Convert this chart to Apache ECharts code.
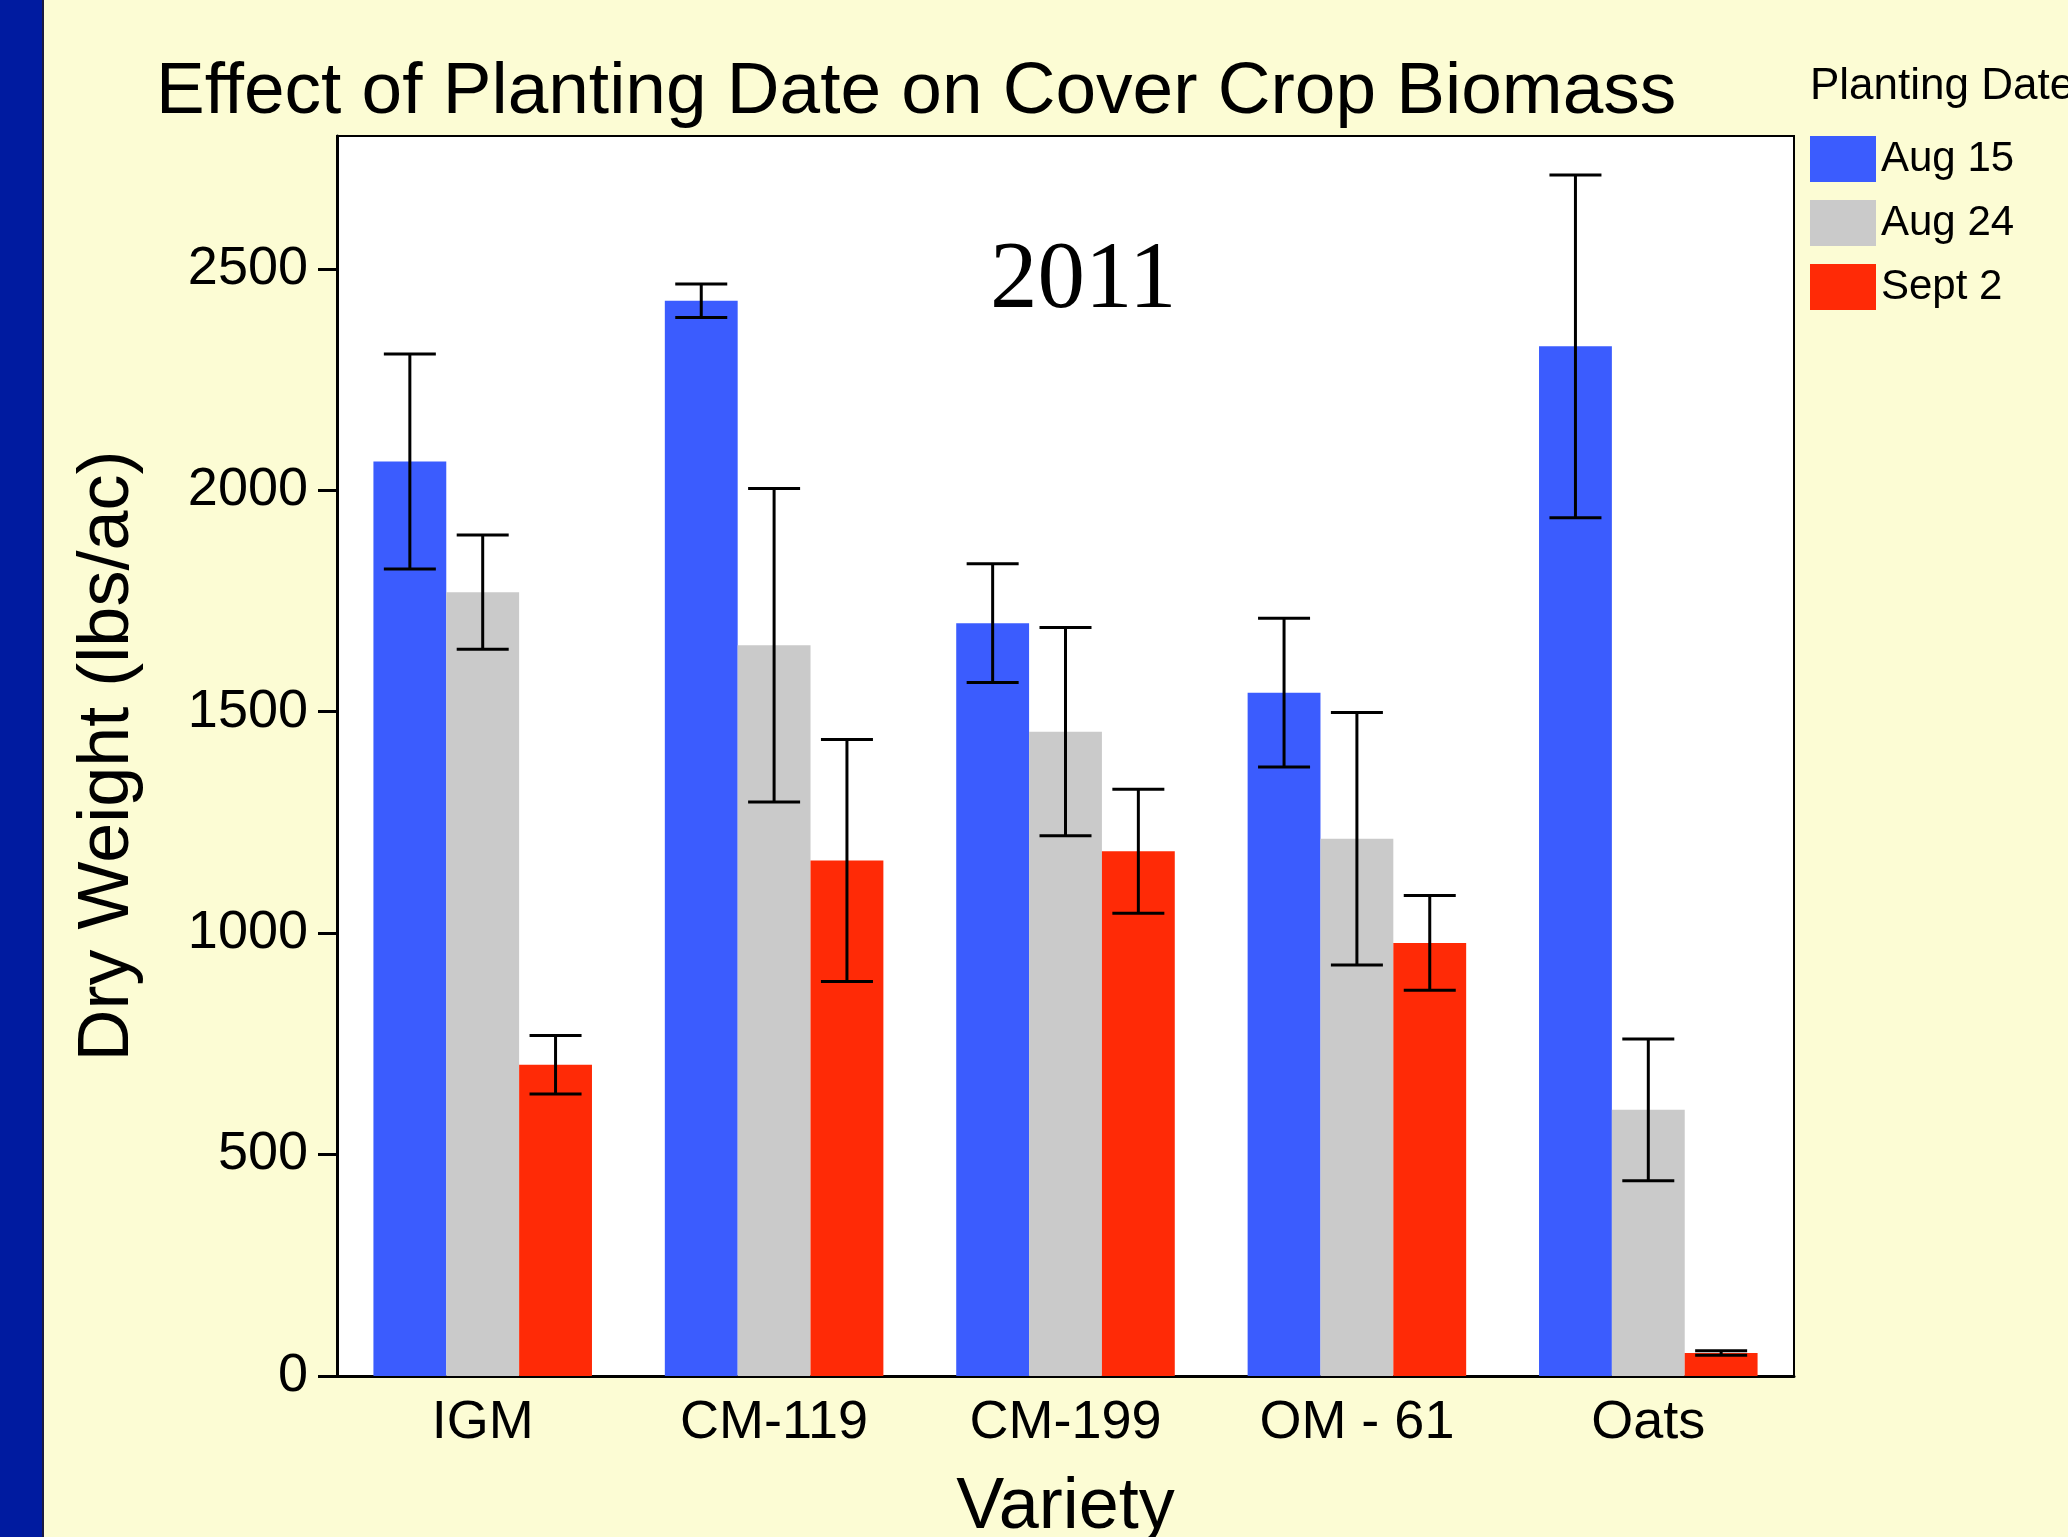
<!DOCTYPE html>
<html>
<head>
<meta charset="utf-8">
<script src="https://cdn.jsdelivr.net/npm/echarts@6/dist/echarts.min.js"></script>
<style>
  html, body { margin: 0; padding: 0; background: #fcfcd4; }
  #chart { width: 2068px; height: 1537px; }
</style>
</head>
<body>
<div id="chart"></div>
<script>
// data
var varieties = ['IGM', 'CM-119', 'CM-199', 'OM - 61', 'Oats'];
var dates = ['Aug 15', 'Aug 24', 'Sept 2'];
var aug15 = [2065, 2428, 1700, 1543, 2325];
var aug15Err = [243, 38, 134, 168, 387];
var aug24 = [1770, 1650, 1455, 1213, 601];
var aug24Err = [129, 354, 235, 285, 160];
var sept2 = [703, 1164, 1185, 978, 52];
var sept2Err = [66, 273, 140, 107, 5];
var yTicks = [0, 500, 1000, 1500, 2000, 2500];

var colors = ['#3b5cfe', '#cacaca', '#ff2a06'];
var values = [aug15, aug24, sept2];
var errs = [aug15Err, aug24Err, sept2Err];
var font = 'Liberation Sans, Arial, sans-serif';

function errData(v, e) {
  var res = [];
  for (var i = 0; i < v.length; i++) {
    res.push([i, v[i] - e[i], v[i] + e[i]]);
  }
  return res;
}

function errRender(k) {
  return function (params, api) {
    var catW = api.size([1, 0])[0];
    var barW = catW * 0.25;
    var off = (k - 1) * barW;
    var lo = api.coord([api.value(0), api.value(1)]);
    var hi = api.coord([api.value(0), api.value(2)]);
    var x = lo[0] + off;
    var half = 26;
    var st = { stroke: '#000', lineWidth: 3 };
    return {
      type: 'group',
      children: [
        { type: 'line', shape: { x1: x, y1: lo[1], x2: x, y2: hi[1] }, style: st },
        { type: 'line', shape: { x1: x - half, y1: lo[1], x2: x + half, y2: lo[1] }, style: st },
        { type: 'line', shape: { x1: x - half, y1: hi[1], x2: x + half, y2: hi[1] }, style: st }
      ]
    };
  };
}

var series = [];
for (var k = 0; k < 3; k++) {
  series.push({
    name: dates[k],
    type: 'bar',
    data: values[k],
    barGap: '0%',
    barCategoryGap: '25%',
    itemStyle: { color: colors[k] }
  });
}
for (var k = 0; k < 3; k++) {
  series.push({
    type: 'custom',
    renderItem: errRender(k),
    data: errData(values[k], errs[k]),
    encode: { x: 0, y: [1, 2] },
    z: 10,
    silent: true
  });
}

var myChart = echarts.init(document.getElementById('chart'));
myChart.setOption({
  backgroundColor: '#fcfcd4',
  animation: false,
  title: {
    text: 'Effect of Planting Date on Cover Crop Biomass',
    left: 151,
    top: 51,
    textStyle: { fontFamily: font, fontSize: 73, fontWeight: 'normal', color: '#000' }
  },
  legend: {
    orient: 'vertical',
    left: 1805,
    top: 131,
    icon: 'rect',
    itemWidth: 66,
    itemHeight: 46,
    itemGap: 18,
    data: dates,
    textStyle: { fontFamily: font, fontSize: 42, color: '#000' }
  },
  grid: {
    left: 337,
    right: 274,
    top: 136,
    bottom: 161,
    outerBoundsMode: 'none',
    show: true,
    backgroundColor: '#ffffff',
    borderColor: '#000',
    borderWidth: 2
  },
  xAxis: {
    type: 'category',
    data: varieties,
    name: 'Variety',
    nameLocation: 'middle',
    nameGap: 96,
    nameTextStyle: { fontFamily: font, fontSize: 72, color: '#000' },
    axisLine: { lineStyle: { color: '#000', width: 3 } },
    axisTick: { show: false },
    axisLabel: { fontFamily: font, fontSize: 54, color: '#000', margin: 20 }
  },
  yAxis: {
    type: 'value',
    min: 0,
    max: 2800,
    interval: 500,
    name: 'Dry Weight (lbs/ac)',
    nameLocation: 'middle',
    nameGap: 193,
    nameTextStyle: { fontFamily: font, fontSize: 72, color: '#000' },
    splitLine: { show: false },
    axisLine: { show: true, lineStyle: { color: '#000', width: 3 } },
    axisTick: { show: true, length: 19, lineStyle: { color: '#000', width: 3 }, customValues: yTicks },
    axisLabel: {
      fontFamily: font, fontSize: 54, color: '#000', margin: 29, customValues: yTicks,
      formatter: function (v) { return String(v); }
    }
  },
  graphic: [
    { type: 'rect', left: 0, top: 0, shape: { width: 42, height: 1537 }, style: { fill: '#001ba0' } },
    { type: 'rect', left: 42, top: 0, shape: { width: 2, height: 1537 }, style: { fill: '#1a1a40' } },
    {
      type: 'text', left: 1810, top: 65,
      style: { text: 'Planting Date', font: '44px ' + font, fill: '#000' }
    },
    {
      type: 'text', left: 990, top: 235,
      style: { text: '2011', font: '95px Liberation Serif, Times New Roman, serif', fill: '#000' }
    }
  ],
  series: series
});
</script>
</body>
</html>
